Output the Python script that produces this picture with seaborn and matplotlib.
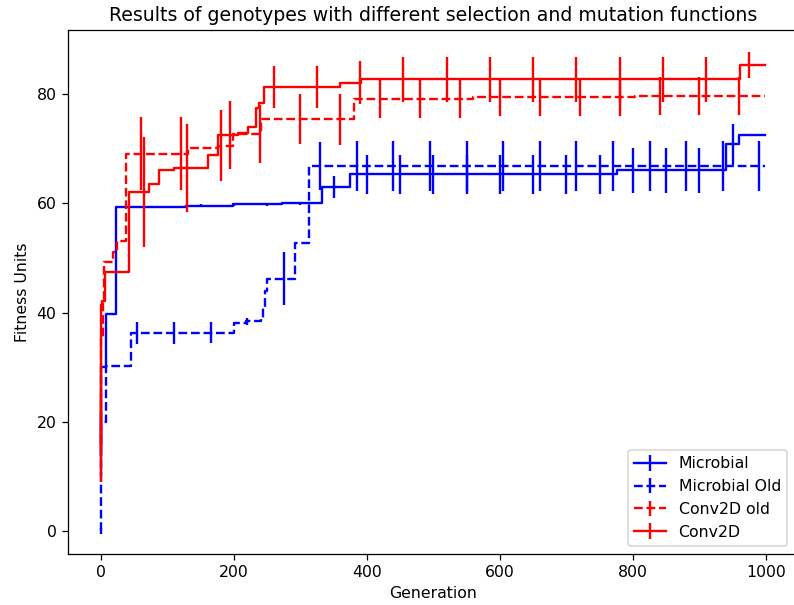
import numpy as np
import pandas as pd
import matplotlib
matplotlib.use("Agg")
import matplotlib.pyplot as plt
from matplotlib.container import ErrorbarContainer
import seaborn as sns

# Best fitness of each run, stored at the generations where it changes
microbial_gen = [0, 1, 8, 23, 128, 148, 199, 272, 333, 374, 776, 940, 959, 999]
microbial_fit = [16.0, 30.0, 39.8, 59.3, 59.5, 59.6, 59.8, 60.0, 63.0, 65.3, 66.05, 70.8, 72.5, 72.5]

microbial_old_gen = [0, 1, 8, 46, 201, 219, 241, 244, 247, 250, 292, 313, 999]
microbial_old_fit = [0.0, 19.9, 30.2, 36.3, 38.0, 38.4, 39.0, 41.0, 44.0, 46.2, 52.8, 66.9, 66.9]

conv2d_old_gen = [0, 1, 3, 5, 18, 25, 38, 131, 176, 199, 241, 381, 560, 803, 999]
conv2d_old_fit = [20.0, 35.5, 42.0, 49.2, 51.0, 53.1, 69.1, 70.2, 70.5, 72.7, 75.4, 79.1, 79.4, 79.7, 79.7]

conv2d_gen = [0, 1, 2, 6, 42, 72, 87, 110, 161, 176, 207, 221, 234, 238, 245, 359, 391, 961, 999]
conv2d_fit = [14.0, 41.3, 42.2, 47.4, 62.1, 63.6, 66.1, 66.5, 68.8, 72.5, 72.8, 73.9, 77.4, 78.3,
              81.3, 82.1, 82.7, 85.3, 85.3]

# Spread across runs, reported every `stride` generations
microbial_stride = 50
microbial_err = [6.0, 0.2, 0.2, 0.3, 0.3, 0.3, 0.3, 2.05, 3.6, 3.6,
                 3.6, 3.6, 3.6, 3.6, 3.6, 3.6, 4.1, 4.1, 4.1, 3.7]
microbial_old_stride = 55
microbial_old_err = [0.5, 2.0, 2.0, 1.9, 0.6, 4.9, 4.4, 4.6, 4.6, 4.6,
                     4.6, 4.6, 4.6, 4.6, 4.6, 4.6, 4.6, 4.6, 4.6]
conv2d_old_stride = 60
conv2d_old_err = [5.0, 6.75, 6.75, 6.5, 5.35, 4.6, 4.65, 3.4, 3.5, 3.5,
                  3.5, 3.5, 3.5, 3.5, 3.5, 3.5, 3.5]
conv2d_stride = 65
conv2d_err = [5.0, 10.1, 8.0, 6.2, 3.9, 3.9, 4.0, 4.1, 4.1, 4.1,
              4.1, 4.1, 4.1, 4.1, 4.1, 2.35]

series = [
    ("Microbial", microbial_gen, microbial_fit, microbial_stride, microbial_err, "blue", "-"),
    ("Microbial Old", microbial_old_gen, microbial_old_fit, microbial_old_stride, microbial_old_err, "blue", "--"),
    ("Conv2D old", conv2d_old_gen, conv2d_old_fit, conv2d_old_stride, conv2d_old_err, "red", "--"),
    ("Conv2D", conv2d_gen, conv2d_fit, conv2d_stride, conv2d_err, "red", "-"),
]

DPI = 113.4
fig = plt.figure(figsize=(794 / DPI, 605 / DPI), dpi=DPI)
ax = fig.add_axes([67.5 / 794, 51 / 605, (798.6 - 67.5) / 794, 524 / 605])

handles = []
for name, gen, fit, stride, err, color, ls in series:
    df = pd.DataFrame({"Generation": gen, "Fitness": fit})
    sns.lineplot(data=df, x="Generation", y="Fitness", drawstyle="steps-post",
                 color=color, linestyle=ls, linewidth=1.5, errorbar=None, ax=ax)
    line = ax.lines[-1]

    bar_gen = np.arange(0, stride * len(err), stride)
    idx = np.searchsorted(gen, bar_gen, side="right") - 1
    bar_fit = np.asarray(fit)[idx]
    eb = ax.errorbar(bar_gen, bar_fit, yerr=err, fmt="none", ecolor=color, elinewidth=1.5)
    barcol = eb.lines[2][0]
    handles.append(ErrorbarContainer((line, (), (barcol,)), has_xerr=False,
                                     has_yerr=True, label=name))

ax.set_xlim(-50, 1049)
ax.set_ylim(-4.22, 91.74)
ax.set_xticks([0, 200, 400, 600, 800, 1000])
ax.set_yticks([0, 20, 40, 60, 80])
ax.set_xlabel("Generation")
ax.set_ylabel("Fitness Units")
ax.set_title("Results of genotypes with different selection and mutation functions")
ax.legend(handles=handles, labels=[h.get_label() for h in handles], loc="lower right",
          bbox_to_anchor=(0.995, 0.0), borderaxespad=0.5)

fig.savefig("out.png", dpi=DPI)
